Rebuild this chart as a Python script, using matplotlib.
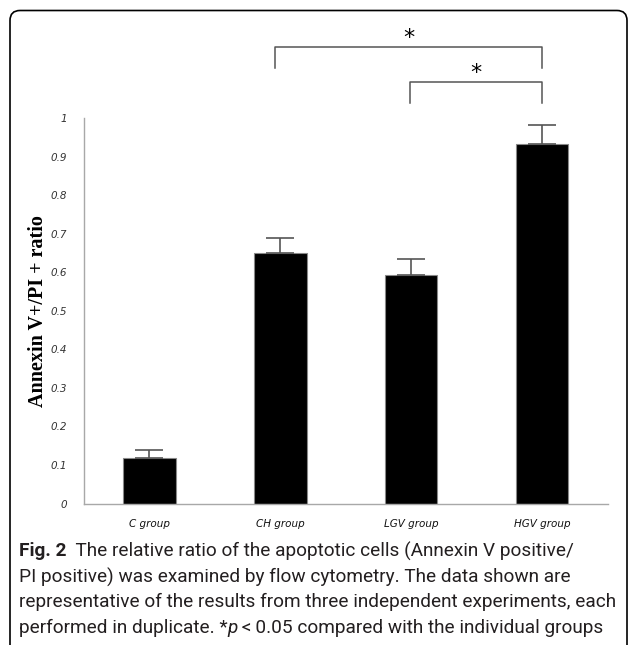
import matplotlib
matplotlib.use("Agg")
import matplotlib.pyplot as plt
from matplotlib.patches import FancyBboxPatch
from matplotlib.transforms import IdentityTransform

categories = ["C group", "CH group", "LGV group", "HGV group"]
values = [0.119, 0.651, 0.592, 0.933]
errors = [0.019, 0.039, 0.043, 0.050]
yticks = [0, 0.1, 0.2, 0.3, 0.4, 0.5, 0.6, 0.7, 0.8, 0.9, 1]
ytick_labels = ["0", "0.1", "0.2", "0.3", "0.4", "0.5", "0.6", "0.7", "0.8", "0.9", "1"]
# significance brackets: (start category, end category, top, leg bottom)
brackets = [(0.96, 3.0, 1.184, 1.130), (1.99, 3.0, 1.094, 1.039)]
ylabel = "Annexin V+/PI + ratio"
caption_bold = "Fig. 2"
caption_lines = [
    "  The relative ratio of the apoptotic cells (Annexin V positive/",
    "PI positive) was examined by flow cytometry. The data shown are",
    "representative of the results from three independent experiments, each",
    "performed in duplicate. *",
]

W, H = 629, 645
fig = plt.figure(figsize=(W / 100, H / 100), dpi=100)
ax = fig.add_axes([84 / W, 1 - 503.5 / H, (607.7 - 84) / W, (503.5 - 118.3) / H])

x = list(range(len(categories)))
ax.bar(x, values, width=0.40, color="black", edgecolor="#888888", linewidth=0.8, zorder=2)
ax.errorbar(x, values, yerr=[[0] * len(errors), errors], fmt="none", ecolor="#555555",
            elinewidth=1.2, capsize=10, capthick=1.2, zorder=3)

ax.set_xlim(-0.5, 3.5)
ax.set_ylim(0, 1)
ax.set_yticks(yticks)
ax.set_yticklabels(ytick_labels, fontstyle="italic", fontsize=7.5, color="#333333")
ax.set_xticks(x)
ax.set_xticklabels(categories, fontstyle="italic", fontsize=7.5, color="#111111")
ax.tick_params(axis="y", length=0, pad=12)
ax.tick_params(axis="x", length=0, pad=11)
for s in ["top", "right"]:
    ax.spines[s].set_visible(False)
ax.spines["left"].set_color("#a8a8a8")
ax.spines["bottom"].set_color("#a8a8a8")
ax.spines["left"].set_linewidth(1.0)
ax.spines["bottom"].set_linewidth(1.0)

ax.set_ylabel(ylabel, family="Liberation Serif", fontweight="bold", fontsize=14.5)
ax.yaxis.set_label_coords(-0.068, 0.5)

for (x0, x1, top, bot) in brackets:
    ax.plot([x0, x0, x1, x1], [bot, top, top, bot], color="#555555", lw=1.1, clip_on=False)
    ax.text((x0 + x1) / 2, top - 0.002, "*", ha="center", va="bottom", fontsize=16,
            color="black", clip_on=False)

# frame
frame = FancyBboxPatch((10, -20), 617, 654.5, boxstyle="round,pad=0,rounding_size=10",
                       transform=IdentityTransform(), facecolor="none", edgecolor="black",
                       linewidth=1.2, clip_on=False)
fig.patches.append(frame)

# caption
renderer = fig.canvas.get_renderer()
fs = 12.5
fam = "Roboto"
probe = fig.text(0, 0, caption_lines[2], fontsize=fs, family=fam)
wpx = probe.get_window_extent(renderer).width
fs = fs * 598 / wpx
probe.remove()

x0px = 19
line_y = [551, 577, 602, 628]
col = "#231f20"
tb = fig.text(x0px / W, 1 - line_y[0] / H, caption_bold, fontsize=fs, family=fam,
              fontweight="bold", va="center", color=col)
bw = tb.get_window_extent(renderer).width
fig.text((x0px + bw) / W, 1 - line_y[0] / H, caption_lines[0], fontsize=fs, family=fam,
         va="center", color=col)
fig.text(x0px / W, 1 - line_y[1] / H, caption_lines[1], fontsize=fs, family=fam,
         va="center", color=col)
fig.text(x0px / W, 1 - line_y[2] / H, caption_lines[2], fontsize=fs, family=fam,
         va="center", color=col)
t4 = fig.text(x0px / W, 1 - line_y[3] / H, caption_lines[3], fontsize=fs, family=fam,
              va="center", color=col)
w4 = t4.get_window_extent(renderer).width
t5 = fig.text((x0px + w4) / W, 1 - line_y[3] / H, "p", fontsize=fs, family=fam,
              fontstyle="italic", va="center", color=col)
w5 = t5.get_window_extent(renderer).width
fig.text((x0px + w4 + w5) / W, 1 - line_y[3] / H, "\u2009<\u20090.05 compared with the individual groups",
         fontsize=fs, family=fam, va="center", color=col)

fig.savefig("out.png", dpi=100)
